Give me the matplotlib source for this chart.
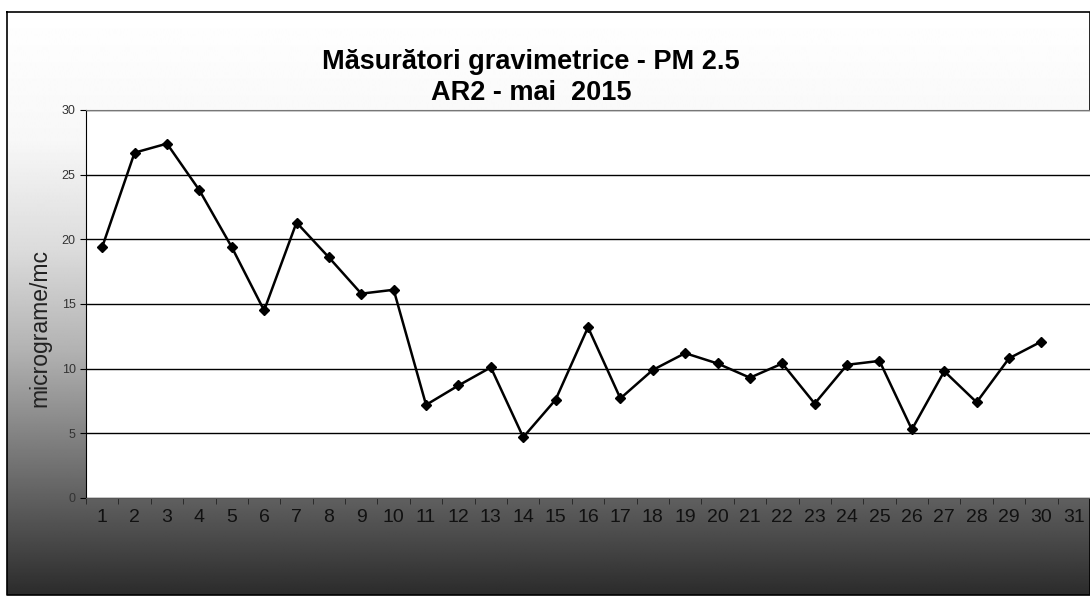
import matplotlib.pyplot as plt
import numpy as np

plt.rcParams['font.family'] = ['Liberation Sans', 'DejaVu Sans']

# ziua lunii (mai 2015) si concentratia PM 2.5
days = list(range(1, 32))
pm25 = [19.4, 26.7, 27.4, 23.8, 19.4, 14.5, 21.3, 18.6, 15.8, 16.1,
        7.2, 8.7, 10.1, 4.7, 7.6, 13.2, 7.7, 9.9, 11.2, 10.4,
        9.3, 10.4, 7.3, 10.3, 10.6, 5.3, 9.8, 7.4, 10.8, 12.1]
yticks = [0, 5, 10, 15, 20, 25, 30]

W, H = 1090, 599
fig = plt.figure(figsize=(W / 100, H / 100), dpi=100)
fig.patch.set_facecolor('white')

# fundal cu gradient (zona graficului)
bg = fig.add_axes([0, 0, 1, 1], zorder=-1)
bg.set_xlim(0, W)
bg.set_ylim(H, 0)
bg.axis('off')
rows = np.arange(12, 596)
shade = np.interp(rows, [12, 140, 250, 350, 450, 520, 595],
                  [1.0, 0.97, 0.86, 0.7, 0.48, 0.33, 0.17])
bg.imshow(np.tile(shade[:, None], (1, 10)), cmap='gray', vmin=0, vmax=1,
          extent=(7, W, 595, 12), aspect='auto', interpolation='bilinear')
bg.plot([7, W, W, 7, 7], [12, 12, 595, 595, 12], color='black', lw=1.2)

ax = fig.add_axes([86 / W, 1 - 498 / H, (W - 86) / W, (498 - 110) / H])
ax.set_facecolor('white')
ax.plot(days[:len(pm25)], pm25, color='black', lw=1.8, marker='D', ms=5.5,
        zorder=3)
ax.set_xlim(0.5, 31.5)
ax.set_ylim(0, 30)
ax.set_yticks(yticks)
ax.set_xticks(days)
ax.set_xticks(np.arange(0.5, 32), minor=True)
ax.grid(axis='y', color='black', lw=1)
ax.tick_params(axis='y', labelsize=9, labelcolor='#333333', length=4,
               direction='out')
ax.tick_params(axis='x', which='major', length=0, labelsize=14,
               labelcolor='#111111', pad=8)
ax.tick_params(axis='x', which='minor', length=4, color='#222222')
ax.spines['left'].set_color('black')
ax.spines['top'].set_color('#777777')
ax.spines['top'].set_linestyle((0, (1, 1)))
ax.spines['bottom'].set_color('#555555')
ax.spines['right'].set_visible(False)

fig.text(531 / W, 1 - 62 / H, 'Măsurători gravimetrice - PM 2.5',
         ha='center', va='center', fontsize=19.5, weight='bold')
fig.text(531 / W, 1 - 93 / H, 'AR2 - mai  2015',
         ha='center', va='center', fontsize=19.5, weight='bold')
fig.text(40 / W, 1 - 328 / H, 'micrograme/mc', rotation=90,
         ha='center', va='center', fontsize=16.5, color='#222222')

fig.savefig('out.png', dpi=100)
